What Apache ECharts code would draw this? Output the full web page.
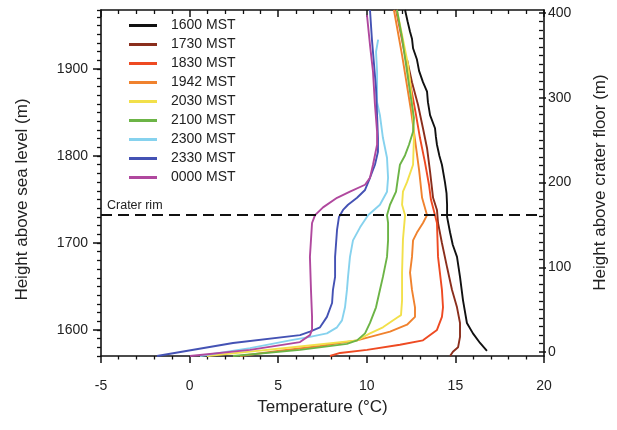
<!DOCTYPE html>
<html><head><meta charset="utf-8">
<script src="https://cdn.jsdelivr.net/npm/echarts@6/dist/echarts.min.js"></script>
<style>html,body{margin:0;padding:0;background:#fff}#c{width:617px;height:430px}</style>
</head><body><div id="c"></div>
<script>
// ---- data ----
const seriesNames = ['1600 MST','1730 MST','1830 MST','1942 MST','2030 MST','2100 MST','2300 MST','2330 MST','0000 MST'];
const seriesColors = ['#111111','#8a2e1c','#ee4a22','#f0822e','#f2e04a','#6cb446','#86d2ee','#4452b4','#b0489e'];

const t1600 = [12.16,12.30,12.44,12.55,12.61,12.83,12.95,13.17,13.40,13.45,13.57,13.85,13.90,13.96,14.10,14.24,14.41,14.50,14.53,14.53,14.70,14.85,15.09,15.26,15.43,15.65,15.99,16.39,16.78];
const h1600 = [1968,1955,1943,1935,1924,1911,1898,1885,1874,1862,1847,1832,1822,1813,1800,1790,1770,1757,1744,1730,1712,1698,1684,1661,1634,1608,1596,1585,1576];

const t1730 = [12.27,12.55,12.89,13.17,13.40,13.57,13.74,13.96,14.02,14.24,14.53,14.81,15.09,15.26,15.26,15.15,14.86,14.70];
const h1730 = [1911,1885,1859,1832,1809,1782,1752,1738,1723,1700,1672,1646,1626,1608,1592,1580,1575,1570];

const t1830 = [11.65,12.16,12.78,13.00,13.28,13.51,13.62,13.85,13.96,14.02,14.24,14.30,14.24,13.96,13.17,11.87,10.01,8.49,7.92];
const h1830 = [1968,1916,1847,1821,1793,1767,1750,1732,1723,1684,1646,1626,1615,1600,1588,1583,1577,1573.5,1570];

const t1942 = [11.53,11.99,12.49,12.72,12.95,13.12,13.40,13.17,12.83,12.61,12.55,12.44,12.55,12.72,12.72,12.27,11.31,9.45,7.36,5.10,2.84];
const h1942 = [1968,1916,1853,1819,1784,1752,1732,1723,1712,1703,1684,1666,1646,1626,1615,1606,1598,1588,1581.5,1576,1570];

const t2030 = [11.70,12.04,12.33,12.49,12.61,12.66,12.61,12.27,12.04,11.99,12.16,12.04,11.99,11.99,11.93,11.70,10.91,10.18,9.45,6.23,3.41,0.98];
const h2030 = [1968,1934,1905,1876,1847,1821,1790,1770,1759,1744,1732,1704,1666,1634,1617,1614,1603,1596,1588,1581,1575,1570];

const t2100 = [11.70,11.99,12.27,12.49,12.66,12.61,12.38,12.16,11.87,11.76,11.65,11.31,11.14,11.20,11.20,11.14,10.91,10.74,10.52,10.18,9.90,9.45,8.88,6.23,2.45];
const h2100 = [1968,1936,1897,1867,1844,1828,1813,1801,1790,1775,1759,1744,1732,1723,1703,1684,1661,1646,1626,1608,1596,1588,1584,1577,1570];

const t2300 = [10.64,10.52,10.58,10.58,10.74,10.91,11.14,11.20,11.14,10.74,10.07,9.62,9.22,9.05,8.94,8.88,8.77,8.60,8.32,7.75,6.79,5.67,3.41,0.59];
const h2300 = [1934,1920,1897,1862,1847,1821,1798,1775,1759,1744,1732,1718,1703,1684,1661,1646,1626,1611,1603,1596,1592,1588,1579,1570];

const t2330 = [10.18,10.29,10.52,10.58,10.63,10.63,10.46,10.18,9.90,9.45,8.94,8.66,8.43,8.32,8.21,8.21,8.09,8.04,7.75,7.36,6.79,6.23,2.45,-1.84];
const h2330 = [1968,1934,1878,1847,1821,1805,1790,1775,1761,1752,1744,1738,1730,1715,1684,1661,1646,1631,1615,1603,1598,1594,1585,1570];

const t0000 = [10.01,10.18,10.35,10.46,10.58,10.58,10.35,10.18,9.90,9.05,8.32,7.53,7.08,6.91,6.79,6.85,6.91,6.91,6.79,6.23,3.41,0.02];
const h0000 = [1962,1928,1897,1859,1828,1813,1790,1775,1767,1759,1752,1741,1732,1723,1684,1646,1615,1600,1594,1586,1577,1570];

const temps = [t1600,t1730,t1830,t1942,t2030,t2100,t2300,t2330,t0000];
const heights = [h1600,h1730,h1830,h1942,h2030,h2100,h2300,h2330,h0000];

const rimHeight = 1732;
const rimLabel = 'Crater rim';
const xTitle = 'Temperature (°C)';
const yTitleLeft = 'Height above sea level (m)';
const yTitleRight = 'Height above crater floor (m)';

// ---- layout ----
const FONT = '"Liberation Sans", Arial, Helvetica, sans-serif';
const X0 = -5, X1 = 20, Y0 = 1570, Y1 = 1968;
const G = {left: 101, top: 10, width: 443, height: 346};
const yPix = h => G.top + (Y1 - h) / (Y1 - Y0) * G.height;
const gL = {left: G.left, width: G.width, top: yPix(1900), height: yPix(1600) - yPix(1900)};
const gR = {left: G.left, width: G.width, top: 13, height: 339};

const chart = echarts.init(document.getElementById('c'), null, {renderer: 'canvas'});
const axisColor = '#111';
const plain = v => String(v);
const labelStyle = {color: '#222', fontSize: 14, fontFamily: FONT, formatter: plain};
const nameStyle = {color: '#222', fontSize: 17, fontFamily: FONT};

const series = seriesNames.map((n, i) => ({
  name: n, type: 'line', xAxisIndex: 0, yAxisIndex: 0,
  data: temps[i].map((t, k) => [t, heights[i][k]]),
  showSymbol: false, symbol: 'none', smooth: false,
  lineStyle: {color: seriesColors[i], width: 1.9},
  itemStyle: {color: seriesColors[i]},
  z: 3,
  markLine: i === 0 ? {
    silent: true, symbol: 'none', animation: false,
    lineStyle: {type: [11, 6], color: '#111', width: 2},
    label: {show: true, formatter: rimLabel, position: 'insideStartTop', color: '#222', fontSize: 12.5, fontFamily: FONT, distance: [6, 3]},
    data: [{yAxis: rimHeight}]
  } : undefined
}));

chart.setOption({
  animation: false,
  backgroundColor: '#fff',
  grid: [
    {left: G.left, top: G.top, width: G.width, height: G.height},
    gL, gR
  ],
  legend: {
    orient: 'vertical', left: 124, top: 13, itemGap: 4,
    icon: 'rect', itemWidth: 28, itemHeight: 3,
    data: seriesNames,
    textStyle: {color: '#222', fontSize: 14, fontFamily: FONT, padding: [0, 0, 0, 9], lineHeight: 15}
  },
  xAxis: [
    {gridIndex: 0, type: 'value', position: 'bottom', min: X0, max: X1, interval: 5,
     axisLine: {show: true, onZero: false, lineStyle: {color: axisColor, width: 1.6}},
     axisTick: {show: true, length: 7, lineStyle: {color: axisColor, width: 1.5}},
     minorTick: {show: true, splitNumber: 5, length: 3.5, lineStyle: {color: axisColor, width: 1.3}},
     axisLabel: Object.assign({margin: 23}, labelStyle),
     splitLine: {show: false},
     name: xTitle, nameLocation: 'middle', nameGap: 43, nameTextStyle: nameStyle},
    {gridIndex: 0, type: 'value', position: 'top', min: X0, max: X1, interval: 5,
     axisLine: {show: true, onZero: false, lineStyle: {color: axisColor, width: 1.6}},
     axisTick: {show: true, inside: true, length: 7, lineStyle: {color: axisColor, width: 1.5}},
     minorTick: {show: true, splitNumber: 5, length: 4, lineStyle: {color: axisColor, width: 1.3}},
     axisLabel: {show: false}, splitLine: {show: false}},
    {gridIndex: 1, type: 'value', min: X0, max: X1, show: false},
    {gridIndex: 2, type: 'value', min: X0, max: X1, show: false}
  ],
  yAxis: [
    {gridIndex: 0, type: 'value', position: 'left', min: Y0, max: Y1, interval: 10,
     axisLine: {show: true, onZero: false, lineStyle: {color: axisColor, width: 1.6}},
     axisTick: {show: true, length: 4, lineStyle: {color: axisColor, width: 1.3}},
     axisLabel: {show: false}, splitLine: {show: false}},
    {gridIndex: 0, type: 'value', position: 'right', min: Y0, max: Y1,
     axisLine: {show: true, onZero: false, lineStyle: {color: axisColor, width: 1.6}},
     axisTick: {show: false}, axisLabel: {show: false}, splitLine: {show: false}},
    {gridIndex: 1, type: 'value', position: 'left', min: 1600, max: 1900, interval: 100,
     axisLine: {show: false, onZero: false},
     axisTick: {show: true, length: 8, lineStyle: {color: axisColor, width: 1.5}},
     axisLabel: Object.assign({margin: 13}, labelStyle), splitLine: {show: false},
     name: yTitleLeft, nameLocation: 'middle', nameRotate: 90, nameGap: 70, nameTextStyle: nameStyle},
    {gridIndex: 2, type: 'value', position: 'right', min: 0, max: 400, interval: 100,
     axisLine: {show: false, onZero: false},
     axisTick: {show: true, length: 7, lineStyle: {color: axisColor, width: 1.5}},
     minorTick: {show: true, splitNumber: 10, length: 4, lineStyle: {color: axisColor, width: 1.3}},
     axisLabel: Object.assign({margin: 9}, labelStyle), splitLine: {show: false},
     name: yTitleRight, nameLocation: 'middle', nameRotate: 90, nameGap: 53, nameTextStyle: nameStyle}
  ],
  series: series
});
</script></body></html>
